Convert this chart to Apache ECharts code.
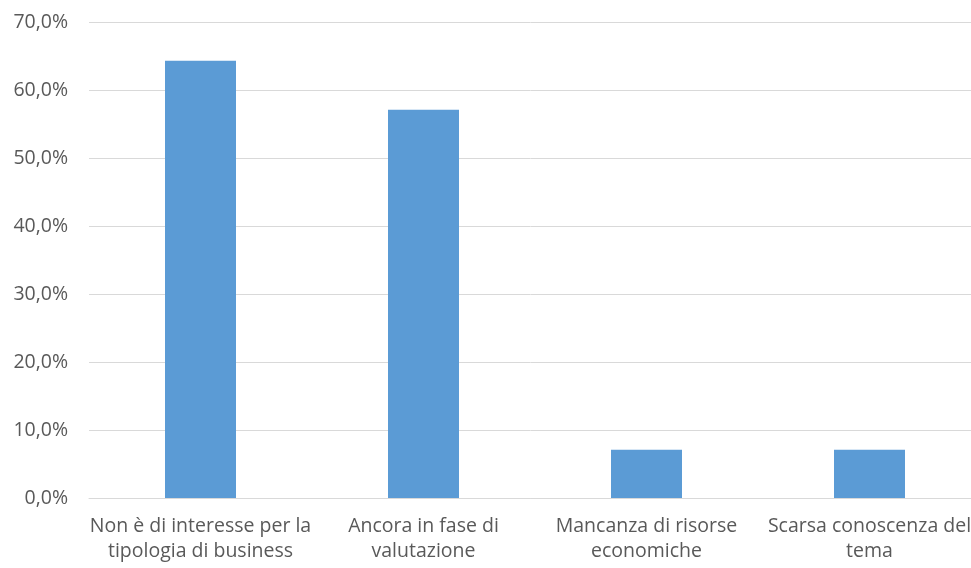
<!DOCTYPE html>
<html>
<head>
<meta charset="utf-8">
<script src="https://cdn.jsdelivr.net/npm/echarts@6/dist/echarts.min.js"></script>
<style>
  html, body { margin: 0; padding: 0; background: #fff; overflow: hidden; }
  #chart { width: 971px; height: 568px; }
</style>
</head>
<body>
<div id="chart"></div>
<script>
// Motivi per cui non si è adottato (quota di rispondenti, %)
const categories = [
  'Non è di interesse per la\ntipologia di business',
  'Ancora in fase di\nvalutazione',
  'Mancanza di risorse\neconomiche',
  'Scarsa conoscenza del\ntema'
];
const values = [64.3, 57.1, 7.1, 7.1];
const yTicks = { min: 0, max: 70, interval: 10 };

const textColor = '#595959';
const font = 'Open Sans';

const chart = echarts.init(document.getElementById('chart'), null, { renderer: 'canvas' });
chart.setOption({
  animation: false,
  grid: {
    left: 89, width: 892, top: 22, bottom: 70,
    containLabel: false,
    outerBoundsMode: 'none'
  },
  xAxis: {
    type: 'category',
    data: categories,
    axisLine: { show: true, lineStyle: { color: '#d9d9d9', width: 1 } },
    axisTick: { show: false },
    axisLabel: {
      interval: 0,
      margin: 16,
      color: textColor,
      fontFamily: font,
      fontSize: 19.5,
      lineHeight: 25,
      hideOverlap: false
    }
  },
  yAxis: {
    type: 'value',
    min: yTicks.min,
    max: yTicks.max,
    interval: yTicks.interval,
    axisLine: { show: false },
    axisTick: { show: false },
    splitLine: { lineStyle: { color: '#d9d9d9', width: 1 } },
    axisLabel: {
      margin: 21,
      color: textColor,
      fontFamily: font,
      fontSize: 19.5,
      formatter: v => v.toFixed(1).replace('.', ',') + '%'
    }
  },
  series: [{
    type: 'bar',
    data: values,
    barWidth: 71,
    itemStyle: { color: '#5b9bd5' }
  }]
});
</script>
</body>
</html>
